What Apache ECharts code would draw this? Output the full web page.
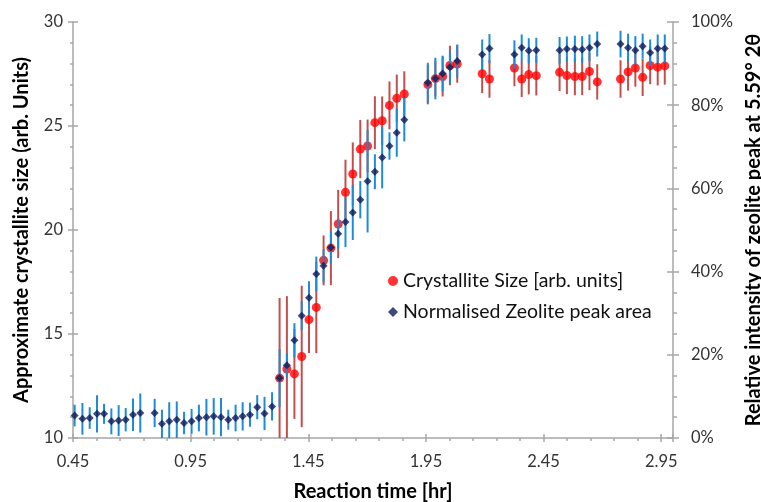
<!DOCTYPE html>
<html><head><meta charset="utf-8">
<script src="https://cdn.jsdelivr.net/npm/echarts@6/dist/echarts.min.js"></script>
<style>html,body{margin:0;padding:0;background:#fff}#c{width:761px;height:502px}</style>
</head><body><div id="c"></div>
<script>
// Reaction time [hr]
const time = [0.457,0.490,0.521,0.552,0.582,0.613,0.644,0.674,0.705,0.736,
  0.797,0.828,0.859,0.891,0.922,0.954,0.985,1.017,1.048,1.079,1.110,1.141,1.171,1.202,1.233,1.264,1.296,
  1.328,1.359,1.391,1.422,1.453,1.484,1.515,1.546,1.577,1.608,1.639,1.671,1.702,1.733,1.764,1.795,1.826,1.858,
  1.958,1.990,2.021,2.052,2.083,
  2.189,2.220,
  2.326,2.357,2.387,2.419,
  2.518,2.549,2.583,2.614,2.645,2.678,
  2.777,2.809,2.840,2.871,2.903,2.935,2.965];
// Crystallite size [arb. units] (left axis)
const crystalSize = [null,null,null,null,null,null,null,null,null,null,
  null,null,null,null,null,null,null,null,null,null,null,null,null,null,null,null,null,
  12.88,13.32,13.08,13.92,15.69,16.28,18.54,19.13,20.29,21.81,22.69,23.89,24.04,25.16,25.25,25.99,26.33,26.54,
  26.99,27.28,27.38,27.91,27.98,
  27.51,27.26,
  27.79,27.26,27.47,27.42,
  27.58,27.43,27.38,27.38,27.62,27.12,
  27.26,27.60,27.79,27.34,27.91,27.83,27.89];
const crystalErr = [null,null,null,null,null,null,null,null,null,null,
  null,null,null,null,null,null,null,null,null,null,null,null,null,null,null,null,null,
  3.85,3.5,2.16,3.4,1.6,2.2,1.2,1.78,1.64,1.57,1.52,1.4,1.27,1.27,1.17,1.15,1.14,1.09,
  0.95,0.85,0.96,0.95,0.9,
  0.93,0.9,
  0.88,0.87,0.95,0.95,
  0.9,0.9,0.9,0.9,0.9,0.85,
  0.9,0.9,0.9,0.9,0.9,0.88,0.9];
// Normalised zeolite peak area [%] (right axis)
const peakArea = [5.4,4.6,4.8,5.8,5.8,4.0,4.2,4.4,5.6,6.0,
  6.0,3.4,4.0,4.4,3.6,4.0,4.8,5.0,5.2,5.0,4.4,4.8,5.2,5.6,7.4,5.9,7.6,
  14.4,17.5,23.5,29.4,33.7,39.4,41.4,45.8,49.1,51.9,54.2,57.3,61.7,64.0,67.4,70.2,73.4,76.5,
  85.4,86.4,87.6,89.1,90.6,
  92.2,93.6,
  92.2,93.8,93.1,93.2,
  93.2,93.5,93.5,93.4,93.8,94.7,
  94.7,93.8,93.2,94.2,92.6,93.6,93.6];
const peakErr = [2.6,3.8,2.6,4.5,2.4,3.1,3.7,2.8,3.9,4.7,
  3.4,3.4,4.6,4.4,2.7,3.0,3.2,4.4,4.4,4.6,2.4,3.2,3.4,2.9,2.9,4.0,3.4,
  7.0,2.8,4.1,3.5,4.0,4.2,4.0,3.8,3.6,6.0,6.6,4.5,12.3,4.2,7.4,3.3,5.8,5.2,
  4.8,5.0,4.3,4.0,4.0,
  3.6,3.5,
  3.4,3.2,3.0,3.0,
  3.2,3.0,3.2,3.2,3.2,3.0,
  3.2,3.4,3.4,3.0,3.2,3.4,3.4];
const xTickLabels = ['0.45','0.95','1.45','1.95','2.45','2.95'];
const seriesNames = ['Crystallite Size [arb. units]','Normalised Zeolite peak area'];

const redRows = [], blueRows = [];
time.forEach((t,i)=>{
  if (crystalSize[i] != null) redRows.push([t, crystalSize[i], crystalErr[i]]);
  blueRows.push([t, peakArea[i], peakErr[i]]);
});

const FONT = 'Lato';
const AX = '#a6a6a6';
const LBL = {color:'#333333', fontFamily:FONT, fontSize:16.5};
const TITLE = {color:'#000', fontFamily:FONT, fontSize:20, fontWeight:'bold'};

function errRender(color){
  return function(params, api){
    const x = api.value(0), y = api.value(1), e = api.value(2);
    const p1 = api.coord([x, y - e]), p2 = api.coord([x, y + e]);
    return {type:'line', shape:{x1:p1[0], y1:p1[1], x2:p2[0], y2:p2[1]},
      style:{stroke:color, lineWidth:2}};
  };
}
function majorLabel(v){
  const k = (v - 0.45) / 0.5;
  if (Math.abs(k - Math.round(k)) < 1e-6) {
    const idx = Math.round(k);
    return xTickLabels[idx] !== undefined ? xTickLabels[idx] : '';
  }
  return '';
}

const chart = echarts.init(document.getElementById('c'), null, {renderer:'canvas'});
chart.setOption({
  animation:false,
  backgroundColor:'#fff',
  grid:{left:73, right:88, top:22, bottom:64, containLabel:false, outerBoundsMode:'none'},
  legend:{
    orient:'vertical', left:383, top:266, itemGap:11, itemWidth:10, itemHeight:10,
    textStyle:{color:'#111', fontFamily:FONT, fontSize:19.5},
    data:[{name:seriesNames[0], icon:'circle'},{name:seriesNames[1], icon:'diamond'}]
  },
  xAxis:[
    {type:'value', min:0.45, max:3.0, interval:0.1,
     name:'Reaction time [hr]', nameLocation:'middle', nameGap:44, nameTextStyle:TITLE,
     axisLine:{lineStyle:{color:AX, width:1.5}},
     axisTick:{show:true, length:3, lineStyle:{color:AX, width:1.5}},
     axisLabel:Object.assign({formatter:majorLabel, margin:15}, LBL),
     splitLine:{show:false}},
    {type:'value', min:0.45, max:3.0, interval:0.5, position:'bottom',
     axisLine:{show:false}, axisLabel:{show:false}, splitLine:{show:false},
     axisTick:{show:true, length:4, lineStyle:{color:AX, width:1.5}}},
    {type:'value', min:0.45, max:3.0, interval:0.5, position:'bottom',
     axisLine:{show:false}, axisLabel:{show:false}, splitLine:{show:false},
     axisTick:{show:true, inside:true, length:4, lineStyle:{color:AX, width:1.5}}}
  ],
  yAxis:[
    {type:'value', min:10, max:30, interval:5, position:'left',
     name:'Approximate crystallite size (arb. Units)', nameLocation:'middle', nameGap:41, nameRotate:90,
     nameTextStyle:TITLE,
     axisLine:{show:true, lineStyle:{color:AX, width:1.5}},
     axisTick:{show:true, length:5, lineStyle:{color:AX, width:1.5}},
     minorTick:{show:true, splitNumber:5, length:3, lineStyle:{color:AX, width:1.5}},
     axisLabel:Object.assign({margin:10}, LBL),
     splitLine:{show:false}},
    {type:'value', min:0, max:100, interval:20, position:'right',
     name:'Relative intensity of zeolite peak at 5.59° 2θ', nameLocation:'middle', nameGap:63, nameRotate:90,
     nameTextStyle:TITLE,
     axisLine:{show:true, lineStyle:{color:AX, width:1.5}},
     axisTick:{show:true, length:6, lineStyle:{color:AX, width:1.5}},
     minorTick:{show:true, splitNumber:4, length:4, lineStyle:{color:AX, width:1.5}},
     axisLabel:Object.assign({margin:18, formatter:'{value}%'}, LBL),
     splitLine:{show:false}},
    {type:'value', min:10, max:30, interval:5, position:'left',
     axisLine:{show:false}, axisLabel:{show:false}, splitLine:{show:false},
     axisTick:{show:true, inside:true, length:5, lineStyle:{color:AX, width:1.5}}},
    {type:'value', min:0, max:100, interval:20, position:'right',
     axisLine:{show:false}, axisLabel:{show:false}, splitLine:{show:false},
     axisTick:{show:true, inside:true, length:6, lineStyle:{color:AX, width:1.5}}}
  ],
  series:[
    {type:'custom', name:'redErr', xAxisIndex:0, yAxisIndex:0, clip:true, z:1,
     renderItem:errRender('#c0504d'), encode:{x:0, y:1}, data:redRows, silent:true},
    {type:'scatter', name:seriesNames[0], xAxisIndex:0, yAxisIndex:0, z:2,
     symbol:'circle', symbolSize:9, itemStyle:{color:'#ff0000'},
     data:redRows.map(r=>[r[0], r[1]])},
    {type:'custom', name:'blueErr', xAxisIndex:0, yAxisIndex:1, clip:true, z:3,
     renderItem:errRender('#1f8ad6'), encode:{x:0, y:1}, data:blueRows, silent:true},
    {type:'scatter', name:seriesNames[1], xAxisIndex:0, yAxisIndex:1, z:4,
     symbol:'diamond', symbolSize:8, itemStyle:{color:'#0c1a5a'},
     data:blueRows.map(r=>[r[0], r[1]])}
  ]
});
</script></body></html>
